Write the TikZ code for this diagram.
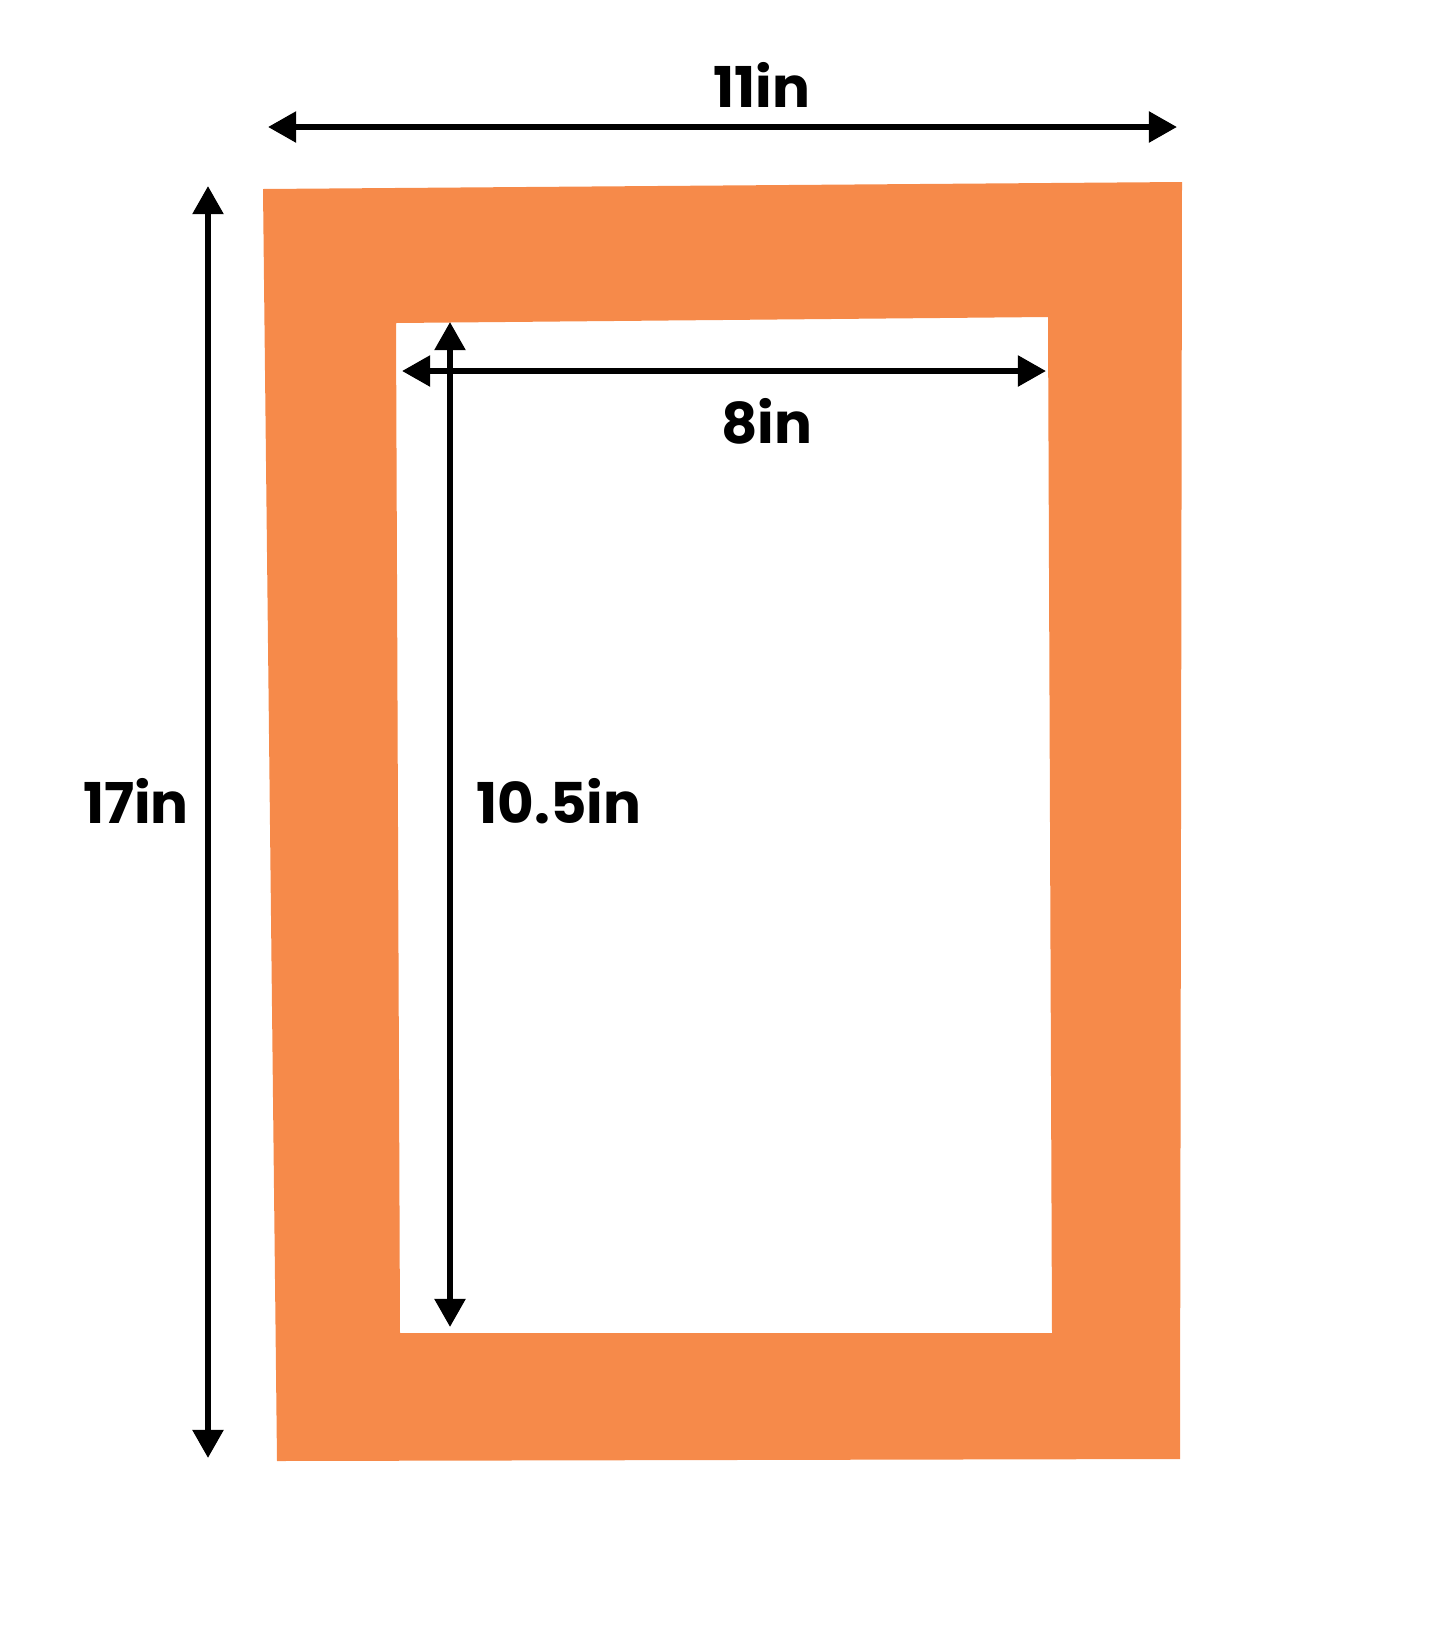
\documentclass[tikz,border=0pt]{standalone}
\usepackage{fontspec}
\setmainfont{Poppins}
\usetikzlibrary{arrows.meta}
\definecolor{matorange}{RGB}{246,138,74}

\begin{document}
\begin{tikzpicture}[x=0.01cm,y=-0.01cm,
    dimline/.style={line width=1.7pt,{Triangle[length=8pt,width=8.5pt]}-{Triangle[length=8pt,width=8.5pt]}},
    dimlabel/.style={anchor=base,inner sep=0pt,font=\fontsize{16}{18}\selectfont\bfseries}]
  \useasboundingbox (0,0) rectangle (1445,1645);
  % mat board with its window
  \fill[matorange,even odd rule] (263,189) -- (1182,182) -- (1180,1459) -- (277,1461) -- cycle
    (396,323) -- (1048,317) -- (1052,1333) -- (400,1333) -- cycle;
  % end points of the dimension lines
  \coordinate (outerL) at (268,127);
  \coordinate (outerR) at (1177,127);
  \coordinate (outerT) at (208,186);
  \coordinate (outerB) at (208,1458);
  \coordinate (innerL) at (402,371);
  \coordinate (innerR) at (1046,371);
  \coordinate (innerT) at (450,322);
  \coordinate (innerB) at (450,1327);
  \draw[dimline] (outerL) -- (outerR);
  \draw[dimline] (outerT) -- (outerB);
  \draw[dimline] (innerL) -- (innerR);
  \draw[dimline] (innerT) -- (innerB);
  \node[dimlabel] (width) at (762,107) {11in};
  \node[dimlabel] (height) at (136,823) {17in};
  \node[dimlabel] (winwidth) at (767,443) {8in};
  \node[dimlabel] (winheight) at (559,823) {10.5in};
\end{tikzpicture}
\end{document}
